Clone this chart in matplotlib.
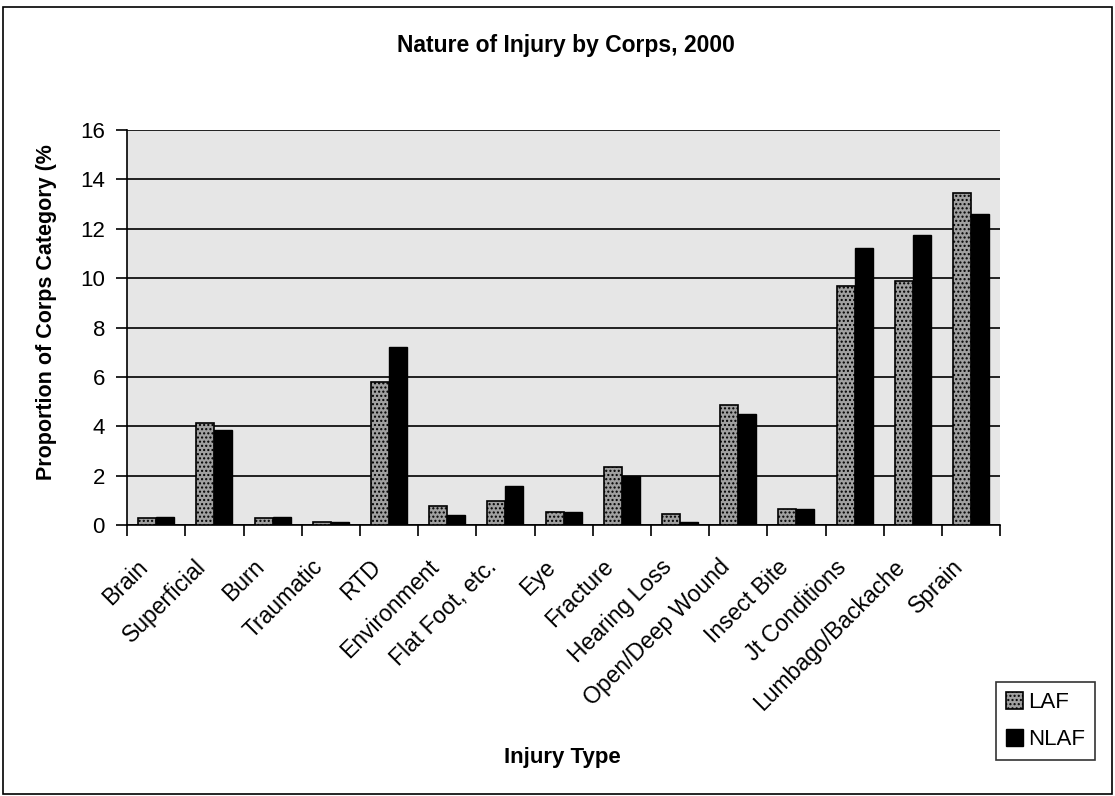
import numpy as np
import matplotlib.pyplot as plt
from matplotlib.transforms import ScaledTranslation

plt.rcParams['font.family'] = ['Liberation Sans', 'DejaVu Sans']

categories = ['Brain', 'Superficial', 'Burn', 'Traumatic', 'RTD', 'Environment',
              'Flat Foot, etc.', 'Eye', 'Fracture', 'Hearing Loss', 'Open/Deep Wound',
              'Insect Bite', 'Jt Conditions', 'Lumbago/Backache', 'Sprain']
laf = [0.3, 4.15, 0.3, 0.15, 5.8, 0.8, 1.0, 0.55, 2.35, 0.45, 4.85, 0.65, 9.7, 9.9, 13.45]
nlaf = [0.35, 3.85, 0.35, 0.15, 7.2, 0.4, 1.6, 0.55, 2.0, 0.15, 4.5, 0.65, 11.2, 11.75, 12.6]

fig = plt.figure(figsize=(11.15, 7.96), dpi=100)
ax = fig.add_axes([0.114, 0.34, 0.783, 0.497])

x = np.arange(len(categories))
w = 0.31
b1 = ax.bar(x - w / 2, laf, w, color='#a0a0a0', edgecolor='black', linewidth=1.2,
            hatch='....', label='LAF', zorder=3)
b2 = ax.bar(x + w / 2, nlaf, w, color='black', edgecolor='black', linewidth=1,
            label='NLAF', zorder=3)

ax.set_facecolor('#e6e6e6')
ax.set_xlim(-0.5, len(categories) - 0.5)
ax.set_ylim(0, 16)
ax.set_yticks(range(0, 17, 2))
ax.yaxis.grid(True, color='black', linewidth=1.2, zorder=1)
ax.set_axisbelow(True)

ax.set_xticks(x)
ax.set_xticklabels(categories, rotation=45, ha='right', va='top', rotation_mode='anchor',
                   fontsize=16.5)
ax.set_xticks(np.arange(-0.5, len(categories), 1), minor=True)
ax.tick_params(axis='x', which='major', length=0, pad=0)
ax.tick_params(axis='x', which='minor', length=8, width=1.2, direction='out')
ax.tick_params(axis='y', length=8, width=1.2, direction='out', labelsize=16, pad=8)
shift = ScaledTranslation(-0.20, -0.30, fig.dpi_scale_trans)
for lbl in ax.get_xticklabels():
    lbl.set_transform(lbl.get_transform() + shift)

for s in ['top', 'right']:
    ax.spines[s].set_visible(False)
ax.spines['left'].set_linewidth(1.2)
ax.spines['bottom'].set_linewidth(1.2)

fig.text(0.042, 0.608, 'Proportion of Corps Category (%', rotation=90, ha='center',
         va='center', fontsize=15.5, fontweight='bold')
fig.text(0.504, 0.048, 'Injury Type', ha='center', va='center', fontsize=16, fontweight='bold')
fig.text(0.508, 0.943, 'Nature of Injury by Corps, 2000', ha='center', va='center',
         fontsize=16.5, fontweight='bold')

leg = fig.legend(handles=[b1, b2], loc='lower right', bbox_to_anchor=(0.982, 0.045),
                 borderaxespad=0, frameon=True, fancybox=False, edgecolor='black',
                 fontsize=16, handlelength=0.8, handleheight=0.8, handletextpad=0.2,
                 labelspacing=0.7, borderpad=0.45)
leg.get_frame().set_linewidth(1.2)

fig.patches.append(plt.Rectangle((0.003, 0.003), 0.994, 0.988, transform=fig.transFigure,
                                 fill=False, edgecolor='black', linewidth=1.2))

fig.savefig('out.png', dpi=100)
